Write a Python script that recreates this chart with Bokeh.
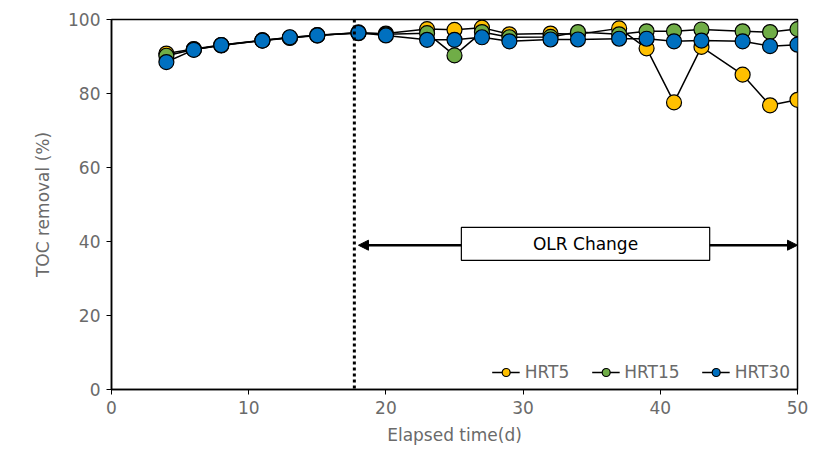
from bokeh.plotting import figure
from bokeh.models import Range1d, Arrow, NormalHead, Span, Legend, LegendItem, FixedTicker, Label
from bokeh.embed import file_html
from bokeh.resources import INLINE

days = [4, 6, 8, 11, 13, 15, 18, 20, 23, 25, 27, 29, 32, 34, 37, 39, 41, 43, 46, 48, 50]
hrt5 = [90.8, 92.0, 93.1, 94.4, 95.1, 95.8, 96.3, 96.2, 97.4, 97.2, 97.8, 96.0, 96.2, 96.0, 97.6, 92.2, 77.6, 92.6, 85.1, 76.8, 78.3]
hrt15 = [90.2, 91.9, 93.0, 94.3, 95.0, 95.7, 96.5, 96.0, 96.3, 90.3, 96.6, 95.2, 95.3, 96.6, 96.0, 96.8, 96.8, 97.3, 96.8, 96.6, 97.4]
hrt30 = [88.5, 91.8, 93.1, 94.3, 95.2, 95.7, 96.4, 95.7, 94.5, 94.5, 95.2, 94.1, 94.6, 94.6, 94.8, 94.8, 94.1, 94.3, 94.1, 92.8, 93.2]
series_names = ["HRT5", "HRT15", "HRT30"]
series_colors = ["#FFC000", "#70AD47", "#0070C0"]
change_day = 17.7
arrow_y = 39.0
box_x = [25.5, 43.6]
box_y = [34.9, 43.8]
annotation_text = "OLR Change"

FONT = "DejaVu Sans"
GRAY = "#6a6a6a"

p = figure(width=815, height=466, output_backend="svg", toolbar_location=None,
           x_range=Range1d(0, 50), y_range=Range1d(0, 100),
           min_border_left=111, min_border_right=18, min_border_top=19, min_border_bottom=77)
p.xgrid.visible = False
p.ygrid.visible = False
p.outline_line_color = "black"
p.outline_line_width = 1.5
p.background_fill_color = "white"
p.border_fill_color = "white"

for ax in (p.xaxis[0], p.yaxis[0]):
    ax.axis_line_color = "black"
    ax.axis_line_width = 1.5
    ax.major_tick_in = 0
    ax.major_tick_out = 5
    ax.major_tick_line_color = "black"
    ax.minor_tick_line_color = None
    ax.major_label_text_color = GRAY
    ax.major_label_text_font = FONT
    ax.major_label_text_font_size = "17px"
    ax.axis_label_text_color = GRAY
    ax.axis_label_text_font = FONT
    ax.axis_label_text_font_size = "17px"
    ax.axis_label_text_font_style = "normal"
p.xaxis.ticker = FixedTicker(ticks=[0, 10, 20, 30, 40, 50])
p.yaxis.ticker = FixedTicker(ticks=[0, 20, 40, 60, 80, 100])
p.xaxis.axis_label = "Elapsed time(d)"
p.yaxis.axis_label = "TOC removal (%)"
p.xaxis.major_label_standoff = 6
p.xaxis.axis_label_standoff = 8
p.yaxis.major_label_standoff = 6
p.yaxis.axis_label_standoff = 12

# dotted line
p.add_layout(Span(location=change_day, dimension="height", line_color="black",
                  line_width=3, line_dash="3 3"))

# arrow (under the box)
p.add_layout(Arrow(x_start=change_day + 0.3, y_start=arrow_y, x_end=50, y_end=arrow_y,
                   line_width=2.5, line_color="black", level="underlay",
                   start=NormalHead(size=10, fill_color="black", line_color="black"),
                   end=NormalHead(size=10, fill_color="black", line_color="black")))
p.quad(left=[box_x[0]], right=[box_x[1]], bottom=[box_y[0]], top=[box_y[1]],
       fill_color="white", line_color="black", line_width=1.2)
p.add_layout(Label(x=(box_x[0] + box_x[1]) / 2, y=(box_y[0] + box_y[1]) / 2,
                   text=annotation_text, text_align="center", text_baseline="middle",
                   text_font=FONT, text_font_size="17px", text_color="black"))

items = []
for name, col, vals in zip(series_names, series_colors, [hrt5, hrt15, hrt30]):
    l = p.line(days, vals, line_color="black", line_width=1.5)
    c = p.scatter(days, vals, size=15, fill_color=col, line_color="black", line_width=1.2)
    items.append(LegendItem(label=name, renderers=[l, c]))

legend = Legend(items=items, orientation="horizontal", location="bottom_right",
                label_text_font=FONT, label_text_font_size="17px", label_text_color=GRAY,
                background_fill_alpha=0, border_line_color=None, spacing=22,
                glyph_width=28, label_standoff=5, margin=7, padding=4)
p.add_layout(legend)

open("out.html", "w").write(file_html(p, INLINE))
